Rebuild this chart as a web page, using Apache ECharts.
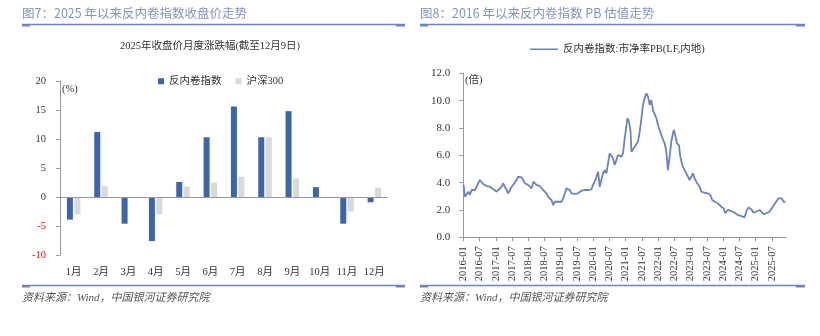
<!DOCTYPE html>
<html>
<head>
<meta charset="utf-8">
<script src="https://cdn.jsdelivr.net/npm/echarts@6/dist/echarts.min.js"></script>
<style>
  html, body { margin: 0; padding: 0; background: #fff; }
  #chart { width: 820px; height: 336px; }
</style>
</head>
<body>
<div id="chart"></div>
<script>
// ---- Figure 7: monthly change of close, 2025 (%) ----
const months = ['1月', '2月', '3月', '4月', '5月', '6月', '7月', '8月', '9月', '10月', '11月', '12月'];
const antiInvolution = [-3.9, 11.2, -4.6, -7.6, 2.6, 10.3, 15.6, 10.3, 14.8, 1.7, -4.6, -0.9];
const csi300 = [-3.0, 1.9, -0.1, -3.0, 1.8, 2.5, 3.5, 10.3, 3.2, 0.0, -2.5, 1.6];

// ---- Figure 8: PB (LF) of the index since 2016 ----
const pbTickLabels = ['2016-01', '2016-07', '2017-01', '2017-07', '2018-01', '2018-07', '2019-01', '2019-07',
  '2020-01', '2020-07', '2021-01', '2021-07', '2022-01', '2022-07', '2023-01', '2023-07',
  '2024-01', '2024-07', '2025-01', '2025-07'];
const pbDates = [
  '2016-01-04', '2016-01-19', '2016-02-08', '2016-02-26', '2016-03-14', '2016-04-03', '2016-04-21', '2016-05-10',
  '2016-05-29', '2016-06-16', '2016-07-05', '2016-07-24', '2016-08-12', '2016-09-19', '2016-10-26', '2016-11-15',
  '2016-12-03', '2017-01-10', '2017-01-28', '2017-03-06', '2017-03-24', '2017-04-12', '2017-05-01', '2017-05-19',
  '2017-06-08', '2017-06-27', '2017-07-14', '2017-08-03', '2017-08-22', '2017-09-10', '2017-09-28', '2017-10-17',
  '2017-11-05', '2017-11-24', '2017-12-12', '2017-12-30', '2018-01-19', '2018-02-08', '2018-02-26', '2018-03-15',
  '2018-04-03', '2018-04-21', '2018-05-10', '2018-05-29', '2018-06-16', '2018-07-05', '2018-07-24', '2018-08-11',
  '2018-08-30', '2018-09-19', '2018-10-07', '2018-10-26', '2018-11-14', '2018-12-02', '2018-12-21', '2019-01-10',
  '2019-01-28', '2019-02-16', '2019-03-05', '2019-03-23', '2019-04-11', '2019-05-01', '2019-05-18', '2019-06-07',
  '2019-06-26', '2019-07-14', '2019-08-02', '2019-08-21', '2019-09-09', '2019-09-28', '2019-10-16', '2019-11-04',
  '2019-11-23', '2019-12-12', '2019-12-30', '2020-01-19', '2020-02-07', '2020-02-25', '2020-03-14', '2020-04-02',
  '2020-04-20', '2020-05-09', '2020-05-28', '2020-06-16', '2020-07-04', '2020-07-24', '2020-08-11', '2020-08-30',
  '2020-09-18', '2020-10-06', '2020-10-25', '2020-11-14', '2020-12-02', '2020-12-21', '2021-01-09', '2021-01-20',
  '2021-02-08', '2021-02-24', '2021-03-05', '2021-03-23', '2021-04-11', '2021-04-30', '2021-05-18', '2021-06-07',
  '2021-06-26', '2021-07-13', '2021-08-02', '2021-08-21', '2021-09-09', '2021-09-28', '2021-10-16', '2021-11-04',
  '2021-11-23', '2021-12-12', '2021-12-30', '2022-01-18', '2022-02-07', '2022-02-25', '2022-03-14', '2022-04-02',
  '2022-04-20', '2022-05-09', '2022-05-28', '2022-06-15', '2022-06-26', '2022-07-15', '2022-07-30', '2022-08-22',
  '2022-09-07', '2022-09-29', '2022-10-25', '2022-11-13', '2022-12-01', '2022-12-20', '2023-01-09', '2023-01-27',
  '2023-02-15', '2023-03-04', '2023-03-22', '2023-04-11', '2023-04-30', '2023-06-06', '2023-07-13', '2023-08-09',
  '2023-09-01', '2023-09-27', '2023-11-03', '2023-12-11', '2024-01-07', '2024-01-26', '2024-02-24', '2024-04-02',
  '2024-05-09', '2024-06-15', '2024-07-23', '2024-08-30', '2024-09-25', '2024-10-14', '2024-11-14', '2024-12-09',
  '2025-01-09', '2025-02-15', '2025-03-04', '2025-03-30', '2025-04-30', '2025-06-06', '2025-07-13', '2025-08-20',
  '2025-09-15', '2025-10-04', '2025-10-22', '2025-11-11', '2025-12-03'
];
const pbValues = [
  3.83, 2.97, 3.15, 3.34, 3.10, 3.46, 3.58, 3.46,
  3.70, 3.95, 4.19, 4.07, 3.90, 3.75, 3.70, 3.58,
  3.51, 3.34, 3.46, 3.70, 3.95, 3.70, 3.46, 3.22,
  3.46, 3.70, 3.83, 4.00, 3.95, 4.43, 4.31, 4.39,
  4.19, 3.95, 4.07, 3.83, 3.70, 3.58, 4.07, 3.95,
  3.83, 3.95, 3.75, 3.83, 3.46, 3.58, 3.22, 2.97,
  2.85, 2.73, 2.36, 2.60, 2.73, 2.60, 2.68, 2.60,
  2.85, 3.22, 3.58, 3.58, 3.46, 3.22, 3.10, 3.17,
  3.10, 3.22, 3.22, 3.41, 3.51, 3.46, 3.41, 3.46,
  3.39, 3.51, 3.83, 4.07, 4.43, 4.80, 3.70, 4.19,
  4.68, 4.92, 4.68, 5.41, 6.14, 6.26, 5.78, 5.30,
  5.65, 6.02, 6.14, 5.90, 6.14, 7.24, 8.09, 8.71,
  8.46, 7.72, 6.26, 6.14, 6.63, 6.63, 6.99, 7.72,
  8.71, 9.68, 10.17, 10.53, 10.29, 9.68, 10.04, 9.31,
  9.19, 8.71, 8.22, 7.85, 7.48, 7.12, 6.88, 6.26,
  4.92, 5.90, 6.99, 7.61, 7.85, 7.36, 6.88, 6.75,
  5.90, 5.29, 4.92, 4.68, 4.45, 4.19, 4.43, 4.68,
  4.31, 4.07, 3.95, 3.70, 3.34, 3.26, 3.22, 3.10,
  2.73, 2.60, 2.49, 2.24, 2.12, 1.76, 2.00, 1.92,
  1.80, 1.63, 1.56, 1.46, 2.00, 2.19, 2.05, 1.80,
  1.87, 2.00, 1.87, 1.70, 1.76, 1.87, 2.24, 2.60,
  2.85, 2.73, 2.85, 2.60, 2.60
];
const pbLastDate = '2025-12-09';

// fractional month count since Jan 2016, used as the x scale of the PB chart
function monthIndex(s) {
  const [y, m, d] = s.split('-').map(Number);
  const dim = new Date(y, m, 0).getDate();
  return (y - 2016) * 12 + (m - 1) + (d - 1) / dim;
}
const pbTickValues = pbTickLabels.map(t => monthIndex(t + '-01'));

const SERIF = "'Liberation Serif','Noto Sans CJK SC',serif";
const SANS = "'Noto Sans CJK SC','Noto Sans',sans-serif";
const AXIS_GREY = '#9a9a9a';
const TITLE_COLOR = '#8493c4';
const RULE_COLOR = '#7084bb';

function headerRule(x1, x2, y) {
  return [
    { type: 'line', shape: { x1: x1, y1: y, x2: x2, y2: y }, style: { stroke: RULE_COLOR, lineWidth: 1.5 } },
    { type: 'rect', shape: { x: x1, y: y - 0.5, width: 8, height: 2.5 }, style: { fill: RULE_COLOR } },
    { type: 'rect', shape: { x: x2 - 9, y: y - 0.5, width: 9, height: 2.5 }, style: { fill: RULE_COLOR } }
  ];
}
function txt(text, x, y, size, family, color, extra) {
  return {
    type: 'text', silent: true,
    style: Object.assign({ text: text, x: x, y: y, fontSize: size, fontFamily: family, fill: color,
      align: 'left', verticalAlign: 'middle' }, extra || {})
  };
}

const chart = echarts.init(document.getElementById('chart'), null, { renderer: 'canvas' });

chart.setOption({
  animation: false,
  backgroundColor: '#fff',
  graphic: [
    txt('图7：2025 年以来反内卷指数收盘价走势', 22, 13, 12.5, SANS, TITLE_COLOR),
    txt('图8：2016 年以来反内卷指数 PB 估值走势', 420, 13, 12.5, SANS, TITLE_COLOR),
    ...headerRule(22, 405, 24.5),
    ...headerRule(420, 805, 24.5),
    ...headerRule(22, 405, 285.5),
    ...headerRule(420, 805, 285.5),
    txt('2025年收盘价月度涨跌幅(截至12月9日)', 210, 46, 10.5, SERIF, '#333', { align: 'center' }),
    txt('(%)', 62, 89, 10.5, SERIF, '#333'),
    txt('(倍)', 465, 80, 10.5, SERIF, '#333'),
    txt('资料来源：Wind，中国银河证券研究院', 22, 298, 11, SERIF, '#555', { fontStyle: 'italic' }),
    txt('资料来源：Wind，中国银河证券研究院', 420, 298, 11, SERIF, '#555', { fontStyle: 'italic' })
  ],
  legend: [
    {
      data: ['反内卷指数', '沪深300'],
      left: 153, top: 71, icon: 'rect', itemWidth: 6, itemHeight: 6, itemGap: 14,
      textStyle: { fontSize: 10.5, color: '#333', fontFamily: SERIF }
    },
    {
      data: ['反内卷指数:市净率PB(LF,内地)'],
      left: 525, top: 39, icon: 'rect', itemWidth: 28, itemHeight: 1.5,
      textStyle: { fontSize: 10.5, color: '#333', fontFamily: SERIF }
    }
  ],
  grid: [
    { left: 60, top: 81, width: 328, height: 174 },
    { left: 463.3, top: 73.3, width: 322.7, height: 164 }
  ],
  xAxis: [
    {
      type: 'category', gridIndex: 0, data: months,
      axisLine: { show: false, onZero: false },
      axisTick: { show: false },
      axisLabel: { margin: 12, fontSize: 10.5, color: '#333', fontFamily: SERIF }
    },
    {
      type: 'value', gridIndex: 1, min: 0, max: monthIndex(pbLastDate),
      axisLine: { show: true, onZero: false, lineStyle: { color: AXIS_GREY } },
      axisTick: { show: true, customValues: pbTickValues, length: 4, lineStyle: { color: AXIS_GREY } },
      axisLabel: {
        customValues: pbTickValues, rotate: 90, margin: 9, fontSize: 10.5, color: '#333', fontFamily: SERIF,
        formatter: function (v) {
          let best = 0;
          pbTickValues.forEach((t, i) => { if (Math.abs(t - v) < Math.abs(pbTickValues[best] - v)) best = i; });
          return pbTickLabels[best];
        }
      },
      splitLine: { show: false }
    }
  ],
  yAxis: [
    {
      type: 'value', gridIndex: 0, min: -10, max: 20, interval: 5,
      axisLine: { show: true, lineStyle: { color: AXIS_GREY } },
      axisTick: { show: true, length: 4, lineStyle: { color: AXIS_GREY } },
      axisLabel: {
        margin: 14, fontSize: 10.5, fontFamily: SERIF,
        color: function (v) { return Number(v) < 0 ? '#ff0000' : '#333'; }
      },
      splitLine: { show: false }
    },
    {
      type: 'value', gridIndex: 1, min: 0, max: 12, interval: 2,
      axisLine: { show: true, lineStyle: { color: AXIS_GREY } },
      axisTick: { show: true, length: 4, lineStyle: { color: AXIS_GREY } },
      axisLabel: {
        margin: 13, fontSize: 11, color: '#333', fontFamily: SERIF,
        formatter: function (v) { return Number(v).toFixed(1); }
      },
      splitLine: { show: false }
    }
  ],
  series: [
    {
      name: '反内卷指数', type: 'bar', xAxisIndex: 0, yAxisIndex: 0,
      data: antiInvolution, barWidth: 6, barGap: '25%',
      itemStyle: { color: '#3d65ae' },
      markLine: {
        silent: true, symbol: ['none', 'none'], label: { show: false },
        lineStyle: { color: AXIS_GREY, type: 'solid', width: 1.2 },
        data: [{ yAxis: 0 }]
      },
      z: 3
    },
    {
      name: '沪深300', type: 'bar', xAxisIndex: 0, yAxisIndex: 0,
      data: csi300, barWidth: 6, barGap: '25%',
      itemStyle: { color: '#d9d9d9' },
      z: 3
    },
    {
      name: '反内卷指数:市净率PB(LF,内地)', type: 'line', xAxisIndex: 1, yAxisIndex: 1,
      data: pbDates.map((d, i) => [monthIndex(d), pbValues[i]]),
      showSymbol: false, symbol: 'none',
      lineStyle: { color: '#6a83bd', width: 1.8 },
      itemStyle: { color: '#6a83bd' }
    }
  ]
});
</script>
</body>
</html>
